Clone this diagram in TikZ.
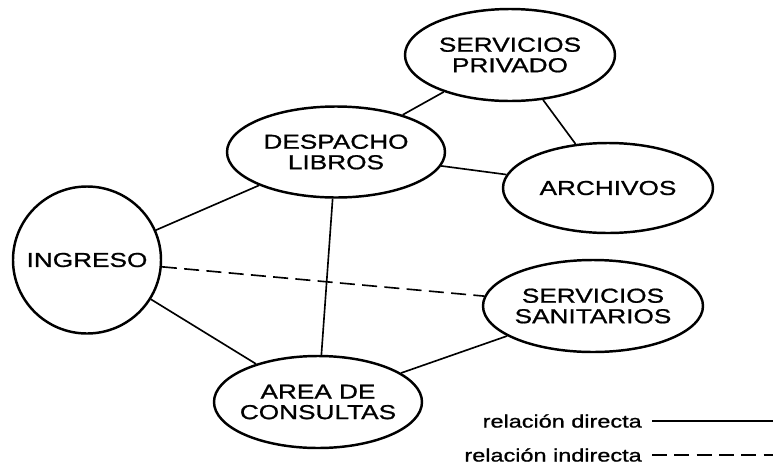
\documentclass[tikz,border=0pt]{standalone}
\usepackage{fontspec}
\newfontfamily\rotulofont[FakeStretch=1.3, FakeBold=1]{Liberation Sans}
\usetikzlibrary{shapes.geometric}
\tikzset{
	sala/.style={draw, ellipse, line width=2.1pt, inner sep=0pt},
	rotulo/.style={font=\rotulofont\fontsize{17.2}{17.5}\selectfont, align=center, inner sep=0pt},
	leyenda/.style={font=\rotulofont\fontsize{15.4}{17}\selectfont, anchor=east, inner xsep=0.3cm, inner ysep=0pt},
	enlace/.style={line width=1.4pt},
	mydash/.style={enlace, dash pattern=on 0.45cm off 0.22cm}
}

\begin{document}
\begin{tikzpicture}[x=0.03cm, y=-0.03cm]
		\useasboundingbox (0,0) rectangle (773,465);
		
		\node[sala, minimum width=6.3cm, minimum height=2.76cm, label={[rotulo]center:SERVICIOS\\PRIVADO}] (privado) at (510,55) {};
		\node[sala, minimum width=6.54cm, minimum height=2.73cm, label={[rotulo]center:DESPACHO\\LIBROS}] (despacho) at (336,152) {};
		\node[sala, minimum width=6.3cm, minimum height=2.7cm, label={[rotulo]center:ARCHIVOS}] (archivos) at (608,188) {};
		\node[sala, minimum width=4.44cm, minimum height=4.41cm, label={[rotulo]center:INGRESO}] (ingreso) at (87,260) {};
		\node[sala, minimum width=6.6cm, minimum height=2.76cm, label={[rotulo]center:SERVICIOS\\SANITARIOS}] (sanitarios) at (593,306) {};
		\node[sala, minimum width=6.24cm, minimum height=2.76cm, label={[rotulo]center:AREA DE\\CONSULTAS}] (consultas) at (318,402) {};
		
		\draw[enlace] (despacho) -- (privado);
		\draw[enlace] (privado) -- (archivos);
		\draw[enlace] (despacho) -- (archivos);
		\draw[enlace] (ingreso) -- (despacho);
		\draw[enlace] (ingreso) -- (consultas);
		\draw[enlace] (despacho) -- (consultas);
		\draw[enlace] (consultas) -- (sanitarios);
		\draw[mydash] (ingreso) -- (sanitarios);
		
		% leyenda
		\node[leyenda] (directa) at (652,421) {relación directa};
		\node[leyenda] (indirecta) at (652,455) {relación indirecta};
		\coordinate (directa fin) at (773,421);
		\coordinate (indirecta fin) at (773,455);
		\draw[enlace] (directa.east) -- (directa fin);
		\draw[mydash] (indirecta.east) -- (indirecta fin);
	\end{tikzpicture}
\end{document}
